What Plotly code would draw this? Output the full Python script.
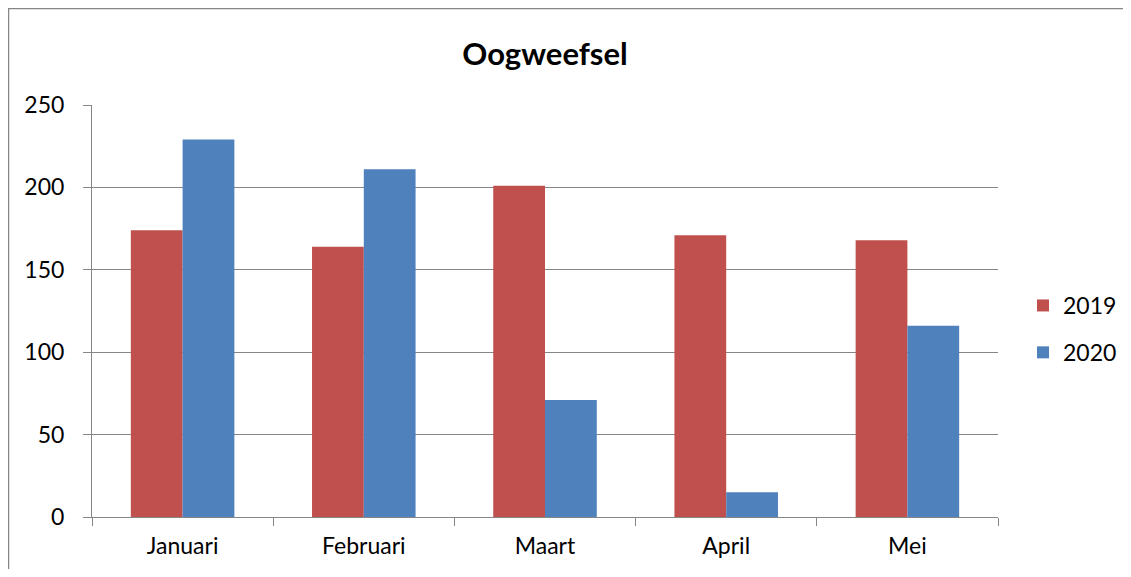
import plotly.graph_objects as go

months = ["Januari", "Februari", "Maart", "April", "Mei"]
v2019 = [174, 164, 201, 171, 168]
v2020 = [229, 211, 71, 15, 116]
yticks = [0, 50, 100, 150, 200, 250]

OFF = 8  # page body margin
W, H = 1131 - OFF, 577 - 2 * OFF
L, T = 92 - OFF, 105 - OFF
pw, ph = 906, 412
R, B = W - L - pw, H - T - ph

def px_x(p):
    return (p - OFF - L) / pw

def px_y(p):
    return (T + ph - (p - OFF)) / ph

fnt = "Lato, Carlito, Calibri, sans-serif"
fig = go.Figure()
fig.add_trace(go.Bar(x=months, y=v2019, name="2019", marker_color="#C0504D",
                     marker_line_width=0, legendgroup="a"))
fig.add_trace(go.Bar(x=months, y=v2020, name="2020", marker_color="#4F81BD",
                     marker_line_width=0, legendgroup="b"))

fig.update_layout(
    width=W, height=H,
    margin=dict(l=L, r=R, t=T, b=B, autoexpand=False),
    paper_bgcolor="white", plot_bgcolor="white",
    barmode="group", bargap=0.4286, bargroupgap=0,
    font=dict(family=fnt, size=23, color="black"),
    title=dict(text="<b>Oogweefsel</b>", x=0.5, xref="paper", xanchor="center",
               y=1 - (54 - OFF) / H, yanchor="middle", font=dict(size=31, family=fnt)),
    legend=dict(x=px_x(1023), y=px_y(329), xanchor="left", yanchor="middle",
                font=dict(size=23), tracegroupgap=14, itemwidth=30,
                bgcolor="rgba(0,0,0,0)"),
    showlegend=True,
)
fig.update_xaxes(showline=True, linecolor="#868686", linewidth=1,
                 ticks="outside", ticklen=8, tickcolor="#868686", tickson="boundaries",
                 showgrid=False, ticklabelstandoff=8)
fig.update_yaxes(range=[0, 250], tickvals=yticks, showline=True, linecolor="#868686",
                 linewidth=1, ticks="outside", ticklen=8, tickcolor="#868686",
                 showgrid=True, gridcolor="#868686", gridwidth=1, zeroline=False,
                 ticklabelstandoff=14)
fig.add_shape(type="rect", xref="paper", yref="paper",
              x0=px_x(8.5), x1=px_x(1145), y0=px_y(8.5), y1=px_y(595),
              line=dict(color="#868686", width=1.5), fillcolor="rgba(0,0,0,0)", layer="below")
fig.write_html("out.html")
